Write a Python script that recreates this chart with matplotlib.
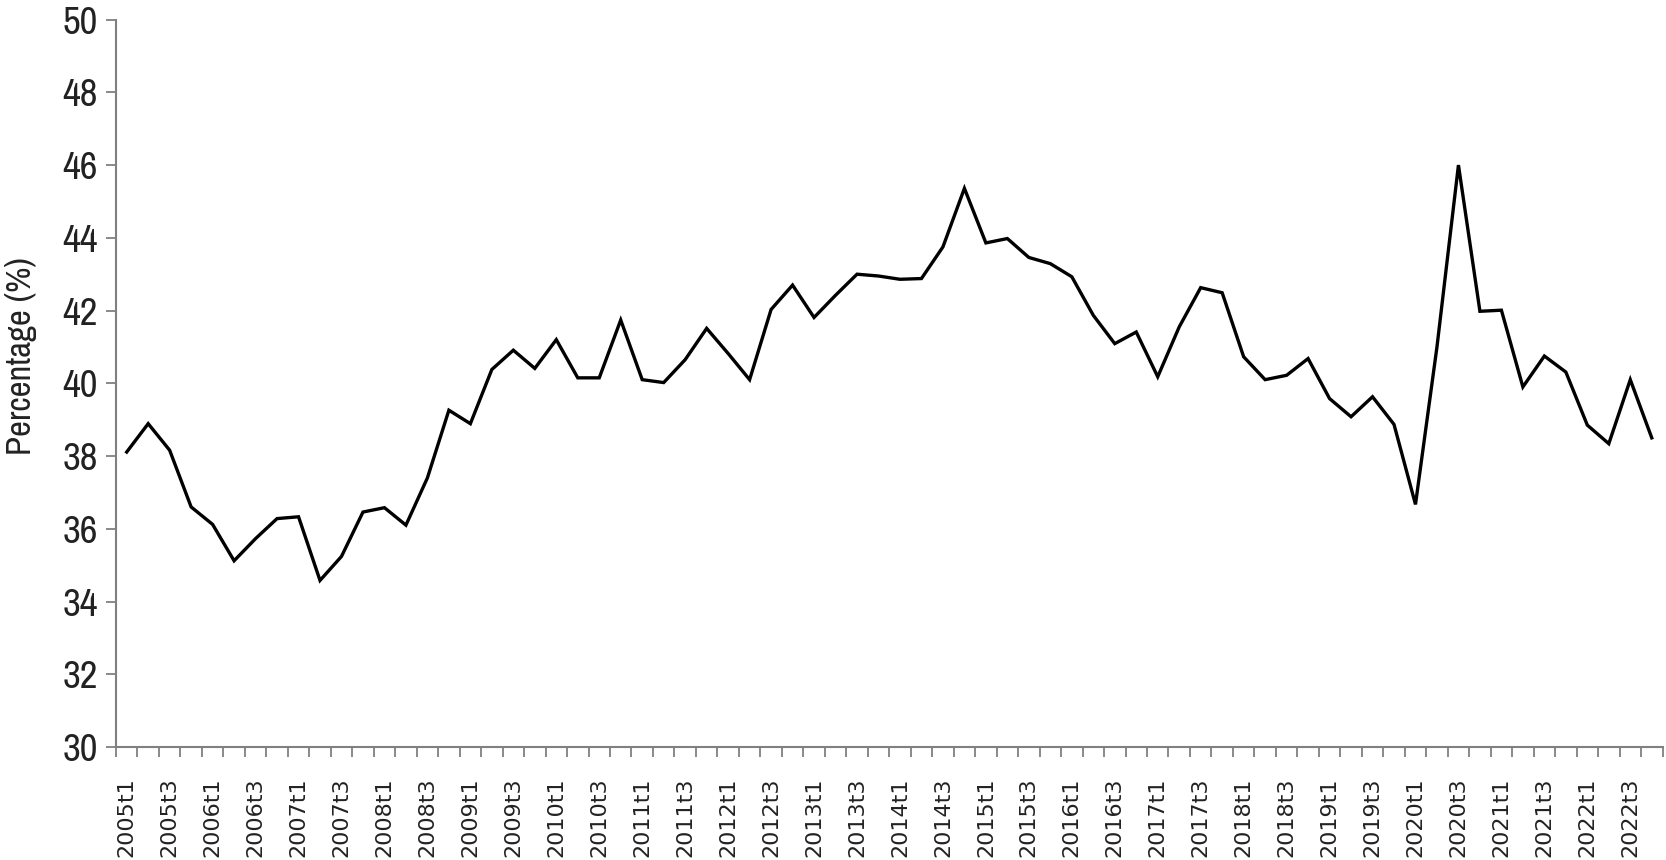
import matplotlib
matplotlib.use("Agg")
import matplotlib.pyplot as plt
from matplotlib import font_manager
import numpy as np

# Quarterly values, 2005t1 .. 2022t4
years = list(range(2005, 2023))
quarters = [1, 2, 3, 4]
values = [
    38.11, 38.89, 38.16, 36.60,   # 2005
    36.12, 35.12, 35.73, 36.28,   # 2006
    36.33, 34.58, 35.24, 36.46,   # 2007
    36.58, 36.10, 37.40, 39.26,   # 2008
    38.89, 40.38, 40.91, 40.41,   # 2009
    41.20, 40.15, 40.15, 41.74,   # 2010
    40.10, 40.02, 40.65, 41.51,   # 2011
    40.82, 40.10, 42.03, 42.70,   # 2012
    41.81, 42.42, 43.00, 42.95,   # 2013
    42.86, 42.88, 43.75, 45.36,   # 2014
    43.86, 43.98, 43.46, 43.29,   # 2015
    42.93, 41.87, 41.09, 41.41,   # 2016
    40.18, 41.55, 42.63, 42.49,   # 2017
    40.73, 40.10, 40.22, 40.68,   # 2018
    39.58, 39.08, 39.63, 38.87,   # 2019
    36.67, 41.00, 46.00, 41.98,   # 2020
    42.01, 39.90, 40.75, 40.31,   # 2021
    38.85, 38.34, 40.10, 38.50,   # 2022
]
labels = [f"{y}t{q}" for y in years for q in quarters]
y_ticks = list(range(30, 51, 2))

# look for a narrow / condensed face, the original uses a tall thin font
narrow_family = "DejaVu Sans"
narrow_stretch = "normal"
for f in font_manager.fontManager.ttflist:
    if "Narrow" in f.name or "Condensed" in f.name:
        narrow_family = f.name
        break
    if f.stretch in ("condensed", "semi-condensed", 75, 87.5, 600):
        narrow_family = f.name
        narrow_stretch = "condensed"

axis_grey = "#808080"
text_col = "#222222"

fig = plt.figure(figsize=(16.66, 8.60), dpi=100)
ax = fig.add_axes([0.0696, 0.1314, 0.9283, 0.8458])

x = np.arange(len(values))
ax.plot(x, values, color="black", linewidth=2.4, solid_joinstyle="miter")

ax.set_xlim(-0.5, len(values) - 0.5)
ax.set_ylim(30, 50)

# tick marks between quarters, labels on every second quarter
ax.set_xticks(np.arange(-0.5, len(values), 1))
ax.set_xticklabels([])
ax.set_xticks(x[::2], minor=True)
ax.set_xticklabels(labels[::2], minor=True, rotation=90, fontsize=16,
                   family="DejaVu Sans", color=text_col)
ax.tick_params(axis="x", which="major", length=7, width=1.3, color=axis_grey)
ax.tick_params(axis="x", which="minor", length=0, pad=22)

ax.set_yticks(y_ticks)
ax.set_yticklabels([str(v) for v in y_ticks], family=narrow_family,
                   stretch=narrow_stretch, fontsize=28, color=text_col)
ax.tick_params(axis="y", length=7, width=1.3, color=axis_grey, pad=6)

ax.set_ylabel("Percentage (%)", family=narrow_family, stretch=narrow_stretch,
              fontsize=25, color=text_col)
ax.yaxis.set_label_coords(-0.051, 0.537)

for side in ["top", "right"]:
    ax.spines[side].set_visible(False)
for side in ["left", "bottom"]:
    ax.spines[side].set_color(axis_grey)
    ax.spines[side].set_linewidth(1.5)

fig.savefig("out.png", dpi=100)
